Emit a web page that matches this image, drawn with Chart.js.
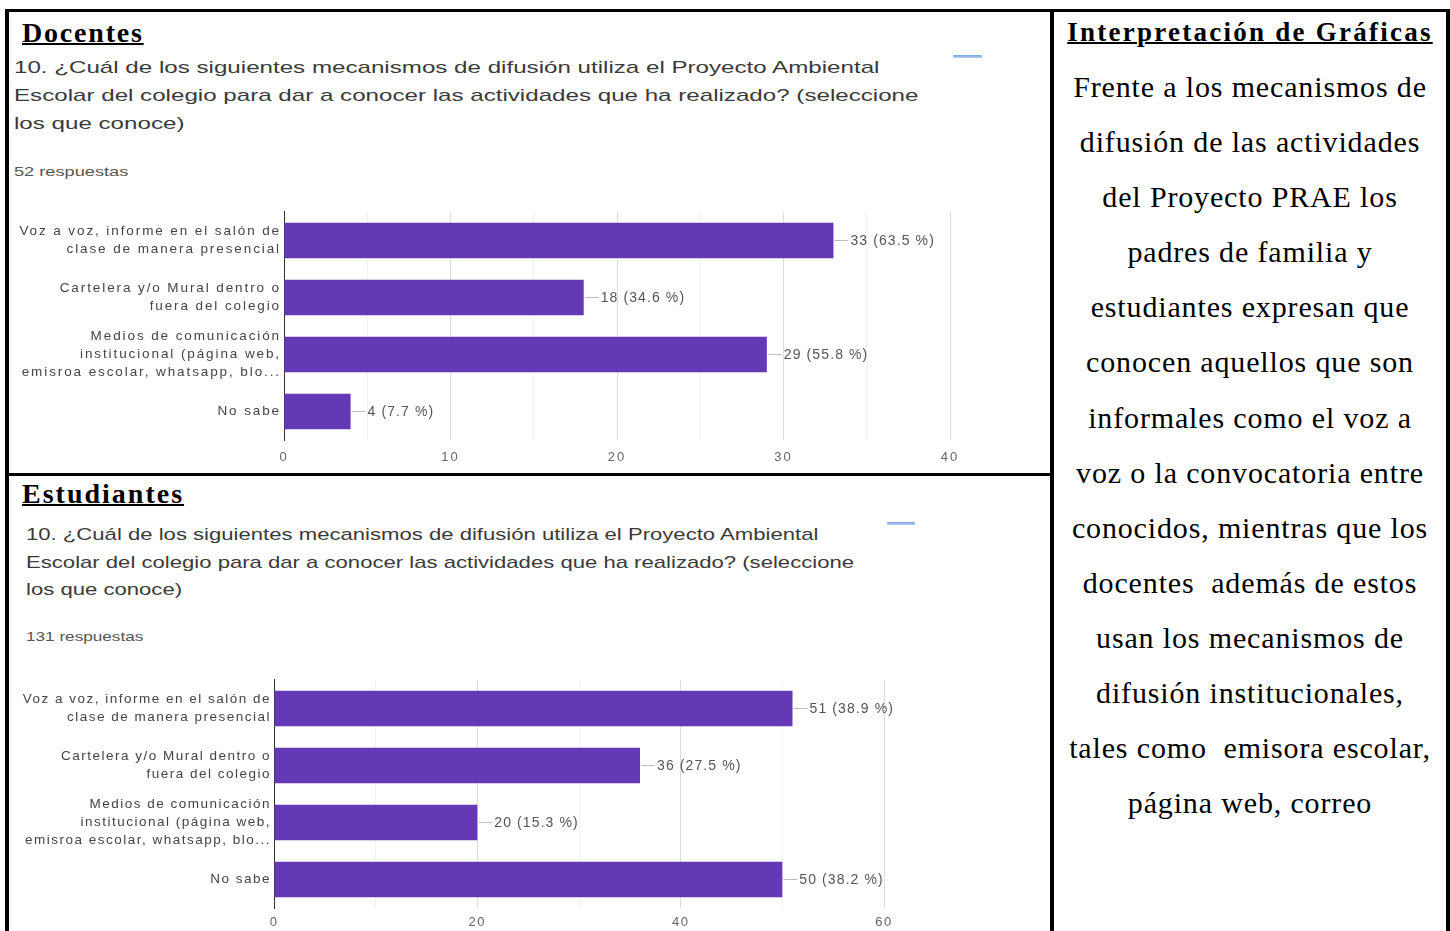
<!DOCTYPE html>
<html>
<head>
<meta charset="utf-8">
<script src="https://cdn.jsdelivr.net/npm/chart.js@4.4.1/dist/chart.umd.min.js"></script>
<style>
  html, body { margin:0; padding:0; background:#fff; }
  body { width:1450px; height:931px; position:relative; overflow:hidden; }
  .abs { position:absolute; }
  .bar { position:absolute; background:#000; }
  .hdr { font-family:"Liberation Serif","Times New Roman",serif; font-weight:bold; text-decoration:underline; text-decoration-thickness:2px; color:#000; white-space:nowrap; }
  .qt { font-family:"Liberation Sans",Arial,sans-serif; font-size:17px; color:#3a3a3a; white-space:nowrap; transform-origin:0 0; }
  .resp { font-family:"Liberation Sans",Arial,sans-serif; font-size:13px; line-height:14px; color:#555; white-space:nowrap; transform-origin:0 0; }
  .para { font-family:"Liberation Serif","Times New Roman",serif; font-size:30px; line-height:55.1px; color:#000; text-align:center; letter-spacing:0.85px; white-space:nowrap; }
  .icon { position:absolute; height:3px; background:linear-gradient(#7aa3e6,#b9cff3); border-radius:1px; }
</style>
</head>
<body>
<!-- table borders -->
<div class="bar" style="left:5px;top:9px;width:1445px;height:3px;"></div>
<div class="bar" style="left:5px;top:9px;width:4px;height:922px;"></div>
<div class="bar" style="left:1050px;top:9px;width:4px;height:922px;"></div>
<div class="bar" style="left:1446px;top:9px;width:4px;height:922px;"></div>
<div class="bar" style="left:5px;top:473px;width:1047px;height:3px;"></div>

<!-- Docentes block -->
<div class="abs hdr" style="left:22px;top:19px;font-size:28px;line-height:28px;letter-spacing:1.8px;">Docentes</div>
<div class="abs qt" style="left:14px;top:54px;line-height:28px;transform:scaleX(1.42);">10. ¿Cuál de los siguientes mecanismos de difusión utiliza el Proyecto Ambiental<br>Escolar del colegio para dar a conocer las actividades que ha realizado? (seleccione<br>los que conoce)</div>
<div class="abs resp" style="left:14px;top:165px;transform:scaleX(1.4);">52 respuestas</div>
<div class="icon" style="left:953px;top:55px;width:29px;"></div>
<div class="abs" style="left:12px;top:200px;width:988px;height:270px;"><canvas id="c1"></canvas></div>

<!-- Estudiantes block -->
<div class="abs hdr" style="left:22px;top:480px;font-size:28px;line-height:28px;letter-spacing:2px;">Estudiantes</div>
<div class="abs qt" style="left:26px;top:521px;line-height:27.5px;transform:scaleX(1.30);">10. ¿Cuál de los siguientes mecanismos de difusión utiliza el Proyecto Ambiental<br>Escolar del colegio para dar a conocer las actividades que ha realizado? (seleccione<br>los que conoce)</div>
<div class="abs resp" style="left:26px;top:630px;transform:scaleX(1.32);">131 respuestas</div>
<div class="icon" style="left:887px;top:522px;width:28px;"></div>
<div class="abs" style="left:20px;top:668px;width:940px;height:263px;"><canvas id="c2"></canvas></div>

<!-- Interpretation column -->
<div class="abs hdr" style="left:1054px;top:19px;width:392px;text-align:center;font-size:27px;line-height:27px;letter-spacing:2.25px;">Interpretación de Gráficas</div>
<div class="abs para" style="left:1054px;top:59px;width:392px;">Frente a los mecanismos de<br>difusión de las actividades<br>del Proyecto PRAE los<br>padres de familia y<br>estudiantes expresan que<br>conocen aquellos que son<br>informales como el voz a<br>voz o la convocatoria entre<br>conocidos, mientras que los<br>docentes&nbsp; además de estos<br>usan los mecanismos de<br>difusión institucionales,<br>tales como&nbsp; emisora escolar,<br>página web, correo</div>

<script>
// ---------- data ----------
const categories = [
  ["Voz a voz, informe en el salón de", "clase de manera presencial"],
  ["Cartelera y/o Mural dentro o", "fuera del colegio"],
  ["Medios de comunicación", "institucional (página web,", "emisroa escolar, whatsapp, blo..."],
  "No sabe"
];
const docentesValues = [33, 18, 29, 4];
const docentesPercents = ["63.5", "34.6", "55.8", "7.7"];
const estudiantesValues = [51, 36, 20, 50];
const estudiantesPercents = ["38.9", "27.5", "15.3", "38.2"];
const docentesTicks = { max: 40, major: 10, minor: 5 };
const estudiantesTicks = { max: 60, major: 20, minor: 10 };

const FONT = '"Liberation Sans", Arial, sans-serif';
const BAR = '#6539b5';

function makeChart(id, values, percents, tk, geo) {
  const spacingPlugin = {
    id: 'spacing',
    beforeDraw(chart) { chart.ctx.letterSpacing = geo.labelSpacing; }
  };
  const dataLabels = {
    id: 'dataLabels',
    afterDatasetsDraw(chart) {
      const ctx = chart.ctx;
      const meta = chart.getDatasetMeta(0);
      ctx.save();
      ctx.letterSpacing = '1.1px';
      ctx.font = '14px ' + FONT;
      ctx.fillStyle = '#555';
      ctx.textAlign = 'left';
      ctx.textBaseline = 'middle';
      meta.data.forEach((el, i) => {
        const x = el.x, y = el.y;
        ctx.strokeStyle = '#bdbdbd';
        ctx.lineWidth = 1;
        ctx.beginPath();
        ctx.moveTo(x + 1, Math.round(y) + 0.5);
        ctx.lineTo(x + 15, Math.round(y) + 0.5);
        ctx.stroke();
        ctx.fillText(values[i] + ' (' + percents[i] + ' %)', x + 17, y + 1);
      });
      ctx.restore();
    }
  };
  return new Chart(document.getElementById(id), {
    type: 'bar',
    data: {
      labels: categories,
      datasets: [{
        data: values,
        backgroundColor: BAR,
        borderWidth: 0,
        barPercentage: 0.62,
        categoryPercentage: 1.0
      }]
    },
    options: {
      indexAxis: 'y',
      responsive: true,
      maintainAspectRatio: false,
      animation: false,
      events: [],
      layout: { padding: { top: geo.padTop, right: geo.padRight, left: 0, bottom: 0 } },
      plugins: { legend: { display: false }, tooltip: { enabled: false } },
      scales: {
        x: {
          min: 0, max: tk.max,
          ticks: {
            stepSize: tk.minor, autoSkip: false, maxRotation: 0,
            padding: geo.tickPad, color: '#666',
            font: { family: FONT, size: 13 },
            callback: (v) => (v % tk.major === 0 ? String(v) : '')
          },
          grid: {
            drawTicks: false,
            color: (c) => (c.tick && c.tick.value % tk.major === 0 ? '#dcdcdc' : '#f2f2f2'),
            lineWidth: 1
          },
          border: { display: false },
          afterFit: (s) => { s.height = geo.xHeight; }
        },
        y: {
          ticks: {
            color: '#444', padding: 3,
            font: { family: FONT, size: 13.5, lineHeight: 1.33 }
          },
          grid: { display: false, drawTicks: false },
          border: { display: true, color: '#333', width: 1 },
          afterFit: (s) => { s.width = geo.yWidth; }
        }
      }
    },
    plugins: [spacingPlugin, dataLabels]
  });
}

makeChart('c1', docentesValues, docentesPercents, docentesTicks,
  { padTop: 8, padRight: 50, xHeight: 30, yWidth: 272, tickPad: 10, labelSpacing: '1.9px' });
makeChart('c2', estudiantesValues, estudiantesPercents, estudiantesTicks,
  { padTop: 7, padRight: 76, xHeight: 23, yWidth: 254, tickPad: 7, labelSpacing: '1.5px' });
</script>
</body>
</html>
